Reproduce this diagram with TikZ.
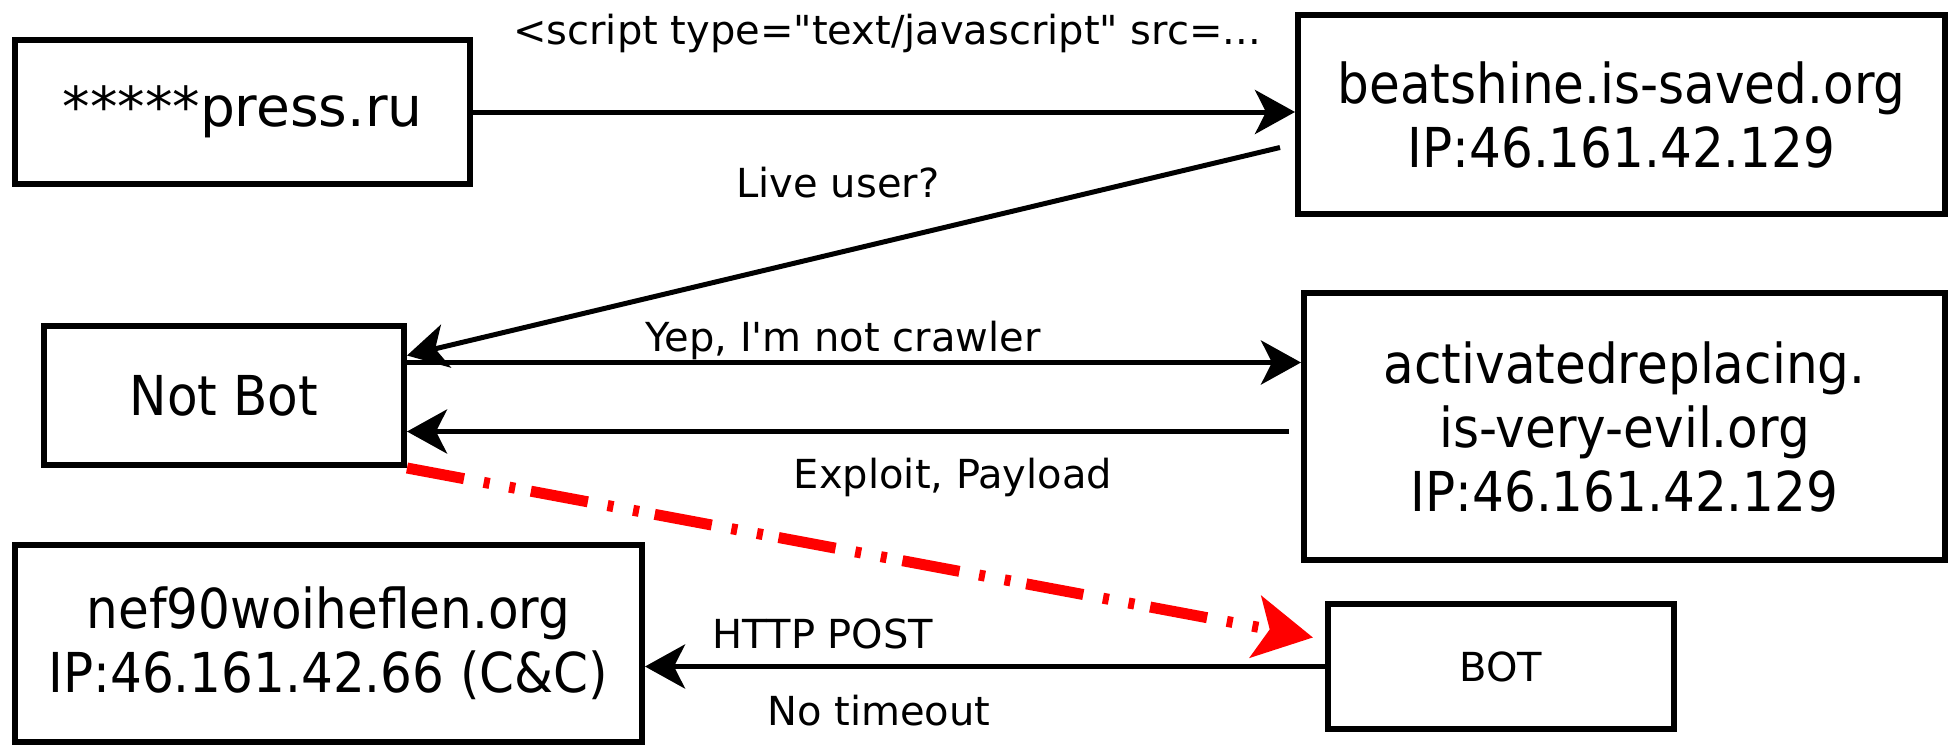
\documentclass[tikz,border=0pt]{standalone}
\usepackage{fontspec}
\setmainfont{DejaVu Sans}
% plain family: straight quotes and apostrophes stay as typed
\newfontfamily\lblfont{DejaVu Sans}
\newfontfamily\boxfont{DejaVu Sans}[FakeStretch=0.91]
\usetikzlibrary{arrows.meta,calc}

\tikzset{
  host/.style={draw=black, line width=6pt, fill=white, inner sep=0pt, align=center,
    font=\boxfont\fontsize{55}{64}\selectfont},
  msg/.style={draw=black, line width=5pt,
    -{Stealth[length=40pt, width=44pt, inset=11pt]}},
  infect/.style={draw=red, line width=11pt,
    dash pattern=on 58pt off 20pt on 6pt off 20pt on 6pt off 16pt,
    -{Stealth[length=58pt, width=62pt, inset=14pt, fill=red]}},
  lbl/.style={anchor=base, inner sep=0pt, font=\lblfont\fontsize{40}{48}\selectfont}
}

\begin{document}
\begin{tikzpicture}[x=1pt, y=-1pt]
\useasboundingbox (0,0) rectangle (1952,747);

% hosts
\node[host, minimum width=455pt, minimum height=144pt,
      font=\lblfont\fontsize{55}{64}\selectfont] (press) at (242.5,112) {*****press.ru};
\node[host, minimum width=647pt, minimum height=199pt] (beat) at (1621.5,114.5)
  {beatshine.is-saved.org\\IP:46.161.42.129};
\node[host, minimum width=360pt, minimum height=139pt] (notbot) at (224,395.5) {Not Bot};
\node[host, minimum width=641pt, minimum height=267pt] (evil) at (1624.5,426.5)
  {activatedreplacing.\\is-very-evil.org\\IP:46.161.42.129};
\node[host, minimum width=627pt, minimum height=197pt] (cnc) at (328.5,643.5)
  {nef90woiheflen.org\\IP:46.161.42.66 (C\&C)};
\node[host, minimum width=346pt, minimum height=125pt,
      font=\lblfont\fontsize{40}{48}\selectfont] (bot) at (1501,666.5) {BOT};

% loose ends of the connectors
\coordinate (liveStart) at ([xshift=-15pt, yshift=-33pt]beat.west);
\coordinate (exploitStart) at ([xshift=-12pt, yshift=-5pt]evil.west);
\coordinate (botTip) at ([xshift=-12pt, yshift=29pt]bot.west);

% messages
\draw[msg] (press.east) -- (press.east -| beat.west);
\draw[msg] (liveStart) -- ([yshift=40pt]notbot.east);
\draw[msg] ([yshift=33pt]notbot.east) -- ([yshift=33pt]notbot.east -| evil.west);
\draw[msg] (exploitStart) -- (exploitStart -| notbot.east);
\draw[msg] (bot.west) -- (bot.west -| cnc.east);
\draw[infect] (notbot.south east) -- (botTip);

% labels
\node[lbl] (lScript) at (887,44) {<script type="text/javascript" src=...};
\node[lbl] (lLive) at (838,197) {Live user?};
\node[lbl] (lYep) at (843,351) {Yep, I'm not crawler};
\node[lbl] (lExploit) at (953,488) {Exploit, Payload};
\node[lbl] (lPost) at (823,648) {HTTP POST};
\node[lbl] (lTimeout) at (879,725) {No timeout};
\end{tikzpicture}
\end{document}
